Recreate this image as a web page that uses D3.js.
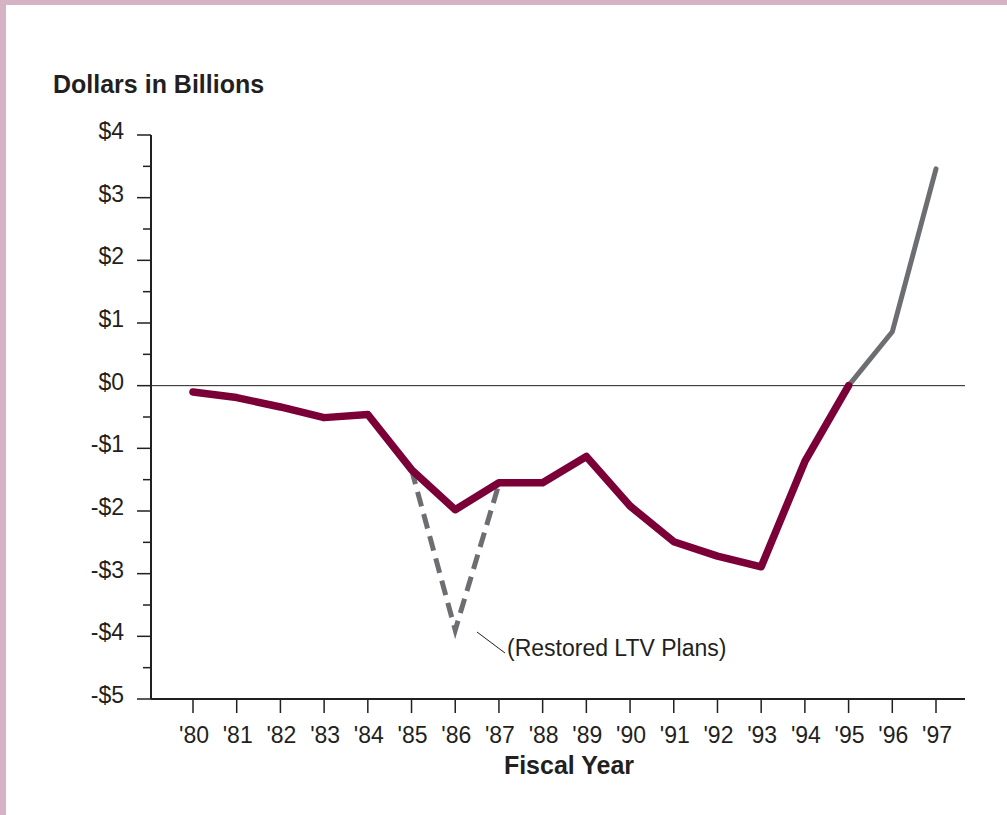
<!DOCTYPE html>
<html>
<head>
<meta charset="utf-8">
<script src="https://cdn.jsdelivr.net/npm/d3@7"></script>
<style>
  html, body { margin: 0; padding: 0; background: #fff; }
  svg { display: block; font-family: "Liberation Sans", Arial, Helvetica, sans-serif; }
</style>
</head>
<body>
<div id="chart"></div>
<script>
// fiscal years and values (billions of dollars)
var years = [1980, 1981, 1982, 1983, 1984, 1985, 1986, 1987, 1988, 1989, 1990, 1991, 1992, 1993, 1994, 1995];
var actual = [-0.1, -0.19, -0.34, -0.51, -0.46, -1.34, -1.98, -1.55, -1.55, -1.13, -1.92, -2.49, -2.72, -2.89, -1.21, 0];
var projYears = [1995, 1996, 1997];
var projected = [0, 0.86, 3.46];
var ltvYears = [1985, 1986, 1987];
var ltvValues = [-1.34, -3.9, -1.57];
var yTicks = [4, 3, 2, 1, 0, -1, -2, -3, -4, -5];
var yMinor = [3.5, 2.5, 1.5, 0.5, -0.5, -1.5, -2.5, -3.5, -4.5];

var W = 1007, H = 815;
var svg = d3.select("#chart").append("svg")
  .attr("width", W)
  .attr("height", H);

// frame
svg.append("rect").attr("x", 0).attr("y", 0).attr("width", W).attr("height", 5).attr("fill", "#d5b3c4");
svg.append("rect").attr("x", 0).attr("y", 0).attr("width", 6).attr("height", H).attr("fill", "#d5b3c4");

var x = d3.scaleLinear().domain([1980, 1997]).range([193, 936]);
var y = d3.scaleLinear().domain([-5, 4]).range([699, 135]);
var left = 151, right = 965;

// y axis
svg.append("line")
  .attr("x1", left).attr("x2", left)
  .attr("y1", y(4)).attr("y2", y(-5))
  .attr("stroke", "#231f20").attr("stroke-width", 2);

svg.selectAll(".ymaj").data(yTicks).enter().append("line")
  .attr("x1", left - 14).attr("x2", left)
  .attr("y1", function(d) { return y(d); })
  .attr("y2", function(d) { return y(d); })
  .attr("stroke", "#231f20").attr("stroke-width", 1.5);

svg.selectAll(".ymin").data(yMinor).enter().append("line")
  .attr("x1", left - 8).attr("x2", left)
  .attr("y1", function(d) { return y(d); })
  .attr("y2", function(d) { return y(d); })
  .attr("stroke", "#231f20").attr("stroke-width", 1.5);

svg.selectAll(".ylab").data(yTicks).enter().append("text")
  .attr("x", 124)
  .attr("y", function(d) { return y(d) + 4; })
  .attr("text-anchor", "end")
  .attr("font-size", 23)
  .attr("fill", "#231f20")
  .text(function(d) { return (d < 0 ? "-$" : "$") + Math.abs(d); });

// x axis
svg.append("line")
  .attr("x1", left).attr("x2", right)
  .attr("y1", y(-5)).attr("y2", y(-5))
  .attr("stroke", "#231f20").attr("stroke-width", 2);

var allYears = d3.range(1980, 1998);
svg.selectAll(".xtick").data(allYears).enter().append("line")
  .attr("x1", function(d) { return x(d); })
  .attr("x2", function(d) { return x(d); })
  .attr("y1", y(-5)).attr("y2", y(-5) + 14)
  .attr("stroke", "#231f20").attr("stroke-width", 1.5);

svg.selectAll(".xlab").data(allYears).enter().append("text")
  .attr("x", function(d) { return x(d) + 1; })
  .attr("y", 743)
  .attr("text-anchor", "middle")
  .attr("font-size", 23)
  .attr("fill", "#231f20")
  .text(function(d) { return "'" + String(d).slice(2); });

// zero line
svg.append("line")
  .attr("x1", left).attr("x2", right)
  .attr("y1", y(0)).attr("y2", y(0))
  .attr("stroke", "#231f20").attr("stroke-width", 1);

// titles
svg.append("text")
  .attr("x", 53).attr("y", 93)
  .attr("font-size", 25).attr("font-weight", "bold")
  .attr("fill", "#231f20")
  .text("Dollars in Billions");

svg.append("text")
  .attr("x", 569).attr("y", 774)
  .attr("text-anchor", "middle")
  .attr("font-size", 25).attr("font-weight", "bold")
  .attr("fill", "#231f20")
  .text("Fiscal Year");

var line = d3.line()
  .x(function(d) { return x(d[0]); })
  .y(function(d) { return y(d[1]); });

// dashed restored LTV line
svg.append("path")
  .datum(d3.zip(ltvYears, ltvValues))
  .attr("d", line)
  .attr("fill", "none")
  .attr("stroke", "#6d6e71")
  .attr("stroke-width", 5)
  .attr("stroke-dasharray", "15,8");

// projected
svg.append("path")
  .datum(d3.zip(projYears, projected))
  .attr("d", line)
  .attr("fill", "none")
  .attr("stroke", "#6d6e71")
  .attr("stroke-width", 5)
  .attr("stroke-linecap", "round")
  .attr("stroke-linejoin", "round");

// actual
svg.append("path")
  .datum(d3.zip(years, actual))
  .attr("d", line)
  .attr("fill", "none")
  .attr("stroke", "#7b0038")
  .attr("stroke-width", 7.5)
  .attr("stroke-linecap", "round")
  .attr("stroke-linejoin", "round");

// annotation
svg.append("line")
  .attr("x1", 477).attr("y1", 632)
  .attr("x2", 505).attr("y2", 653)
  .attr("stroke", "#231f20").attr("stroke-width", 1);

svg.append("text")
  .attr("x", 507).attr("y", 656)
  .attr("font-size", 23)
  .attr("fill", "#231f20")
  .text("(Restored LTV Plans)");
</script>
</body>
</html>
